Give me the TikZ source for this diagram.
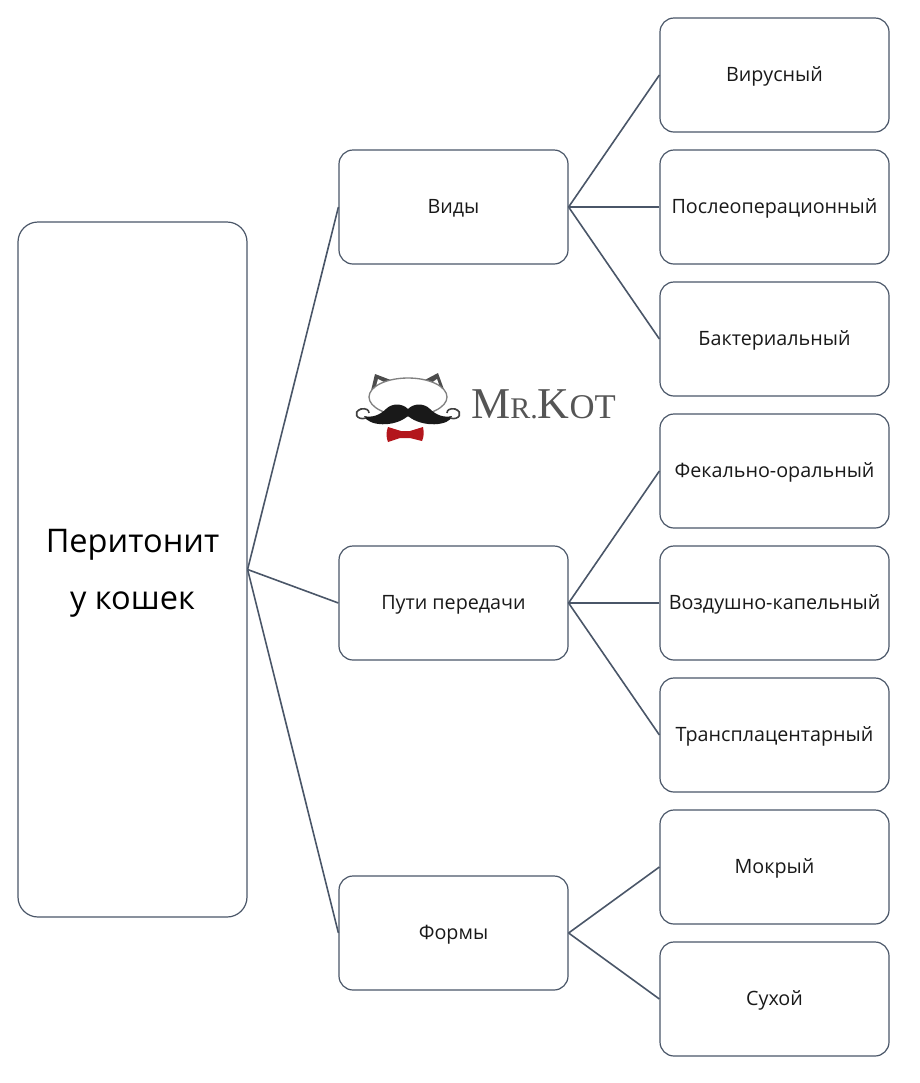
\documentclass[tikz,border=0pt]{standalone}
\usepackage{fontspec}
\setmainfont{Open Sans}
\newfontfamily\logofont{Liberation Serif}
\usepackage{xcolor}
\definecolor{boxline}{HTML}{4A5668}
\definecolor{bowred}{HTML}{B3161C}
\definecolor{logogray}{HTML}{555555}
\tikzset{
    itembox/.style={draw=boxline, line width=0.9pt, rounded corners=10.5pt, minimum width=171.75pt, minimum height=85.5pt, inner sep=0pt, text height=14pt, text depth=4pt, font=\fontsize{14.8}{16}\selectfont, text=black!90},
    rootbox/.style={itembox, rounded corners=15pt, minimum height=521.25pt, text height=, text depth=, align=center, font=\fontsize{24.4}{42.75}\selectfont, text=black},
    link/.style={draw=boxline, line width=1.2pt}
}
\begin{document}
\begin{tikzpicture}[x=0.75pt, y=-0.75pt]
    \useasboundingbox (0,0) rectangle (920,1083);
    \node[rootbox] (root) at (132.5,569.5) {\rule{0pt}{22.5pt}Перитонит\\у кошек};
    \node[itembox] (vidy) at (453.5,207) {Виды};
    \node[itembox] (puti) at (453.5,603) {Пути передачи};
    \node[itembox] (formy) at (453.5,933) {Формы};
    \node[itembox] (virus) at (774.5,75) {Вирусный};
    \node[itembox] (postop) at (774.5,207) {Послеоперационный};
    \node[itembox] (bakt) at (774.5,339) {Бактериальный};
    \node[itembox] (fekal) at (774.5,471) {Фекально-оральный};
    \node[itembox] (vozd) at (774.5,603) {Воздушно-капельный};
    \node[itembox] (trans) at (774.5,735) {Трансплацентарный};
    \node[itembox] (mokr) at (774.5,867) {Мокрый};
    \node[itembox] (sukh) at (774.5,999) {Сухой};
    \draw[link] (root.east) -- (vidy.west);
    \draw[link] (root.east) -- (puti.west);
    \draw[link] (root.east) -- (formy.west);
    \draw[link] (vidy.east) -- (virus.west);
    \draw[link] (vidy.east) -- (postop.west);
    \draw[link] (vidy.east) -- (bakt.west);
    \draw[link] (puti.east) -- (fekal.west);
    \draw[link] (puti.east) -- (vozd.west);
    \draw[link] (puti.east) -- (trans.west);
    \draw[link] (formy.east) -- (mokr.west);
    \draw[link] (formy.east) -- (sukh.west);
    % logo
    \fill[black!70] (370,395) -- (375,374) -- (396,382) -- cycle;
    \fill[black!70] (421,382) -- (438,373) -- (446,395) -- cycle;
    \fill[white] (375,390) -- (378,379) -- (388,384) -- cycle;
    \fill[white] (430,384) -- (437,379) -- (441,390) -- cycle;
    \draw[black!50, fill=white, line width=1pt] (408,397) ellipse [x radius=39, y radius=19];
    \fill[black!90] (408,409) .. controls (402,403) and (392,403) .. (386,409) .. controls (380,415) and (372,418) .. (364,416) .. controls (368,426) and (394,428) .. (408,416) .. controls (422,428) and (450,426) .. (452,416) .. controls (444,418) and (436,415) .. (430,409) .. controls (424,403) and (414,403) .. (408,409) -- cycle;
    \draw[black!75, line width=1.2pt] (366,418) .. controls (357,421) and (352,412) .. (361,409) .. controls (366,408) and (369,410) .. (369,413);
    \draw[black!75, line width=1.2pt] (450,418) .. controls (459,421) and (464,412) .. (455,409) .. controls (450,408) and (447,410) .. (447,413);
    \fill[bowred] (401,431) -- (388,427) .. controls (386,432) and (386,437) .. (388,442) -- (400,438) -- (410,438) -- (422,441) .. controls (424,437) and (424,432) .. (423,427) -- (410,431) -- cycle;
    \node[anchor=base west, inner sep=0pt, text=logogray, font=\logofont] (logo) at (471,418) {\fontsize{33}{33}\selectfont M\fontsize{22.5}{22.5}\selectfont R.\fontsize{33}{33}\selectfont K\fontsize{26}{26}\selectfont OT};
\end{tikzpicture}
\end{document}
